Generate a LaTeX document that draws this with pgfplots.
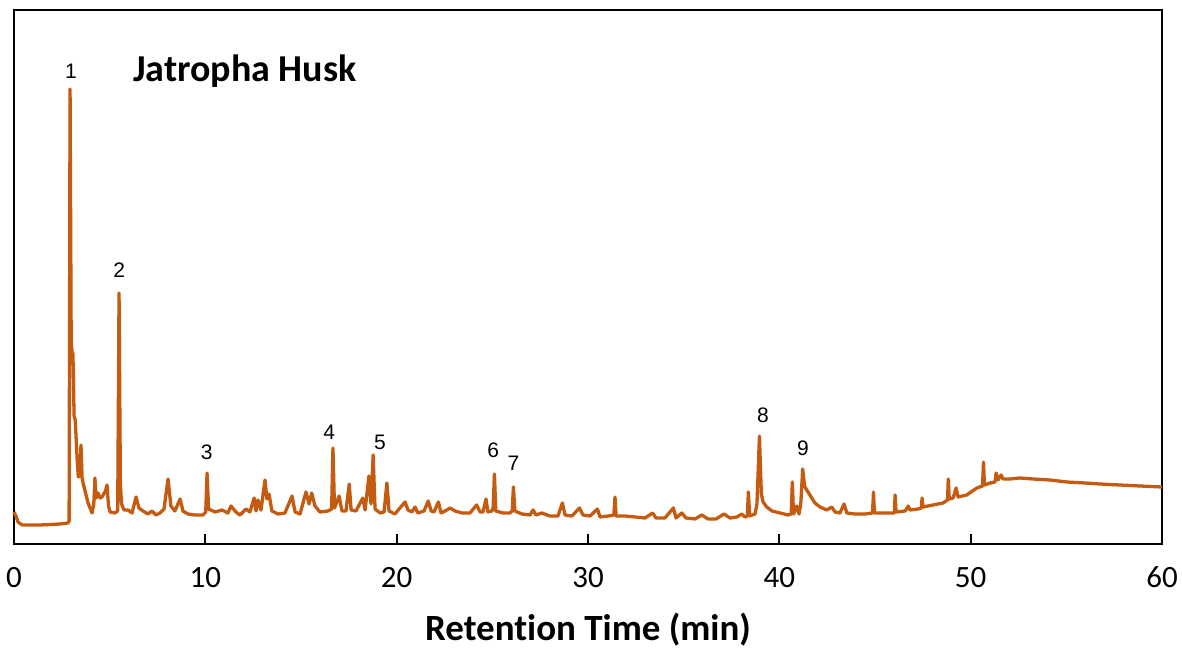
\documentclass[border=0pt]{standalone}
\usepackage{pgfplots}
\pgfplotsset{compat=1.18}
\usepackage{fontspec}
\setmainfont[Ligatures=CommonOff]{Carlito}
\newfontfamily\arialf{Liberation Sans}
\definecolor{trace}{HTML}{C55A11}
\begin{document}
\begin{tikzpicture}
\begin{axis}[
  scale only axis, width=574pt, height=267pt,
  xmin=0, xmax=60, ymin=0, ymax=534,
  axis line style={line width=1pt},
  xtick={0,10,...,60}, xtick pos=left, tick align=inside,
  major tick length=5pt, tick style={line width=0.9pt, black},
  ytick=\empty,
  xticklabel style={font=\fontsize{15.5}{18}\selectfont, anchor=base},
  xticklabel shift=22pt,
  /pgf/number format/assume math mode=true,
  xlabel={\textbf{Retention Time (min)}},
  xlabel style={font=\fontsize{18.5}{22}\selectfont, anchor=base, at={(axis description cs:0.5,0)}, yshift=-48.5pt},
  clip=false,
]
\addplot[trace, line width=1.65pt, line join=round] table {
x y
0.00 32
0.10 28
0.21 22
0.42 19
1.36 19
2.40 20
2.82 21
2.88 23
2.93 455
2.99 200
3.05 190
3.08 191
3.14 128
3.20 124
3.30 85
3.36 67
3.45 70
3.50 99
3.56 66
3.61 61
3.87 41
4.08 31
4.17 40
4.23 66
4.29 46
4.39 51
4.50 46
4.60 47
4.78 53
4.86 59
4.94 38
5.02 32
5.28 31
5.42 33
5.49 251
5.56 60
5.62 40
5.75 34
5.96 34
6.17 31
6.38 47
6.53 36
6.74 33
7.00 30
7.21 33
7.42 29
7.63 31
7.84 35
8.05 65
8.20 38
8.41 33
8.68 45
8.83 33
9.09 30
9.46 29
9.88 29
10.02 32
10.09 71
10.17 35
10.51 32
10.87 34
11.18 31
11.34 38
11.60 32
11.81 29
12.13 35
12.33 32
12.55 46
12.65 33
12.75 44
12.91 34
13.12 64
13.22 45
13.33 50
13.48 33
13.80 30
14.16 31
14.53 48
14.69 32
14.95 30
15.26 52
15.42 40
15.56 51
15.73 38
15.99 32
16.41 33
16.60 35
16.67 96
16.75 36
16.99 48
17.14 33
17.35 33
17.52 60
17.62 34
17.87 33
18.23 46
18.35 34
18.55 68
18.66 40
18.77 89
18.87 35
19.13 31
19.34 32
19.49 61
19.60 33
19.91 30
20.17 36
20.44 42
20.59 34
20.80 32
20.96 37
21.11 31
21.43 33
21.65 43
21.80 33
21.95 32
22.18 42
22.32 31
22.53 33
22.79 36
23.05 33
23.42 31
23.83 31
24.18 39
24.36 32
24.51 32
24.67 45
24.77 32
24.98 33
25.04 36
25.11 70
25.18 33
25.56 31
25.92 31
26.04 33
26.10 57
26.18 33
26.55 30
26.97 29
27.13 34
27.28 29
27.58 31
28.01 28
28.43 28
28.66 41
28.80 29
29.16 28
29.55 36
29.74 29
30.11 28
30.49 35
30.63 27
31.05 28
31.35 29
31.41 47
31.47 28
31.93 28
32.46 27
32.98 26
33.38 31
33.55 26
34.02 26
34.46 36
34.60 26
34.90 31
35.12 26
35.59 25
35.94 29
36.27 25
36.69 25
37.11 30
37.42 26
37.79 27
38.03 30
38.21 27
38.33 28
38.38 52
38.45 28
38.73 30
38.83 40
38.96 108
39.06 50
39.15 42
39.34 37
39.62 33
40.04 31
40.45 29
40.62 30
40.68 62
40.74 30
40.91 38
41.03 30
41.12 40
41.22 75
41.32 58
41.43 54
41.60 49
41.86 41
42.13 37
42.48 34
42.74 37
42.91 32
43.17 31
43.38 40
43.53 31
43.95 30
44.48 30
44.87 31
44.92 52
44.97 31
45.52 31
46.01 31
46.05 49
46.10 32
46.58 33
46.74 38
46.83 34
47.25 35
47.42 36
47.46 46
47.51 37
48.03 39
48.55 41
48.79 44
48.83 65
48.88 45
49.08 46
49.24 56
49.34 47
49.79 49
50.32 56
50.62 58
50.67 82
50.72 59
51.01 61
51.27 62
51.33 71
51.43 64
51.59 69
51.69 65
52.06 65
52.58 66
53.26 65
54.15 64
55.02 62
55.98 61
56.76 60
57.81 59
58.85 58
60.00 57
};
\coordinate (SW) at (rel axis cs:0,0);
\coordinate (NE) at (rel axis cs:1,1);
\node[font=\bfseries\fontsize{19}{22}\selectfont, anchor=base] at (axis cs:12.07,462) {Jatropha Husk};
\begin{scope}[every node/.style={font=\arialf\fontsize{10.5}{12}\selectfont, anchor=base, inner sep=0pt}]
\node at (axis cs:2.98,465) {1};
\node at (axis cs:5.50,266) {2};
\node at (axis cs:10.07,84) {3};
\node at (axis cs:16.48,104) {4};
\node at (axis cs:19.13,94) {5};
\node at (axis cs:25.04,86) {6};
\node at (axis cs:26.10,73) {7};
\node at (axis cs:39.15,121) {8};
\node at (axis cs:41.24,88) {9};
\end{scope}
\end{axis}
\pgfresetboundingbox
\path[use as bounding box] ([xshift=-7pt,yshift=-53.5pt]SW) rectangle ([xshift=10pt,yshift=5pt]NE);
\end{tikzpicture}
\end{document}
